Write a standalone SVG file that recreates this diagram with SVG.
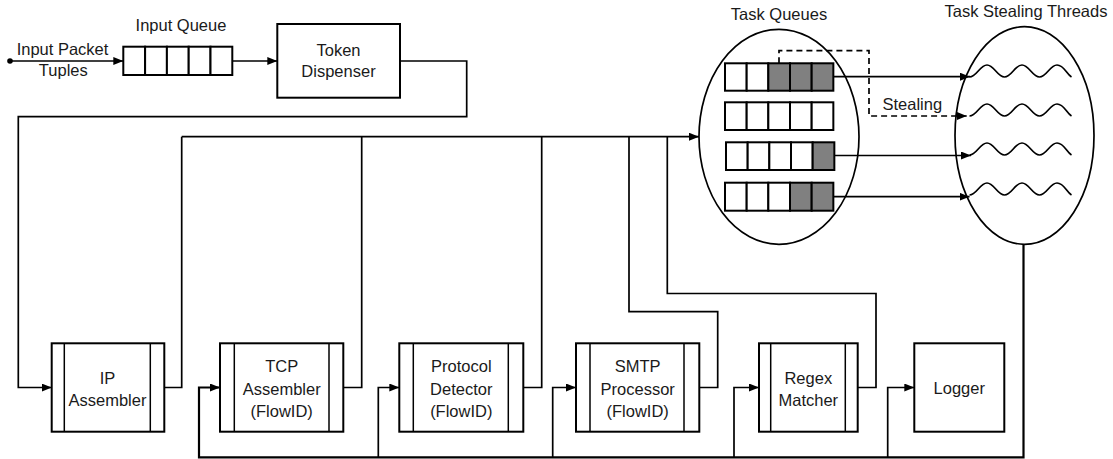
<svg xmlns="http://www.w3.org/2000/svg" xmlns:xlink="http://www.w3.org/1999/xlink" width="1113" height="459" viewBox="0 0 1113 459">
<style>
text{font-family:"Liberation Sans",Arial,sans-serif;font-size:16.5px;fill:#1a1a1a;text-anchor:middle}
.box{fill:#fff;stroke:#000;stroke-width:2}
.in{stroke:#000;stroke-width:1.5}
.cell{fill:#fff;stroke:#000;stroke-width:2}
.g{fill:#808080}
.c{fill:none;stroke:#000;stroke-width:1.7}
.thick{fill:none;stroke:#000;stroke-width:2.2}
.dash{fill:none;stroke:#000;stroke-width:1.7;stroke-dasharray:6 4}
.ell{fill:none;stroke:#000;stroke-width:1.7}
.wave{fill:none;stroke:#000;stroke-width:1.7}
</style>
<defs>
<marker id="ah" markerUnits="userSpaceOnUse" markerWidth="12" markerHeight="10" refX="10" refY="4" orient="auto">
<path d="M0,0 L10,4 L0,8 Z" fill="#000"/>
</marker>
<path id="wv" class="wave" d="M0,0 C7,0 10.5,-12 17.5,-12 S28,0 35,0 S45.5,-12 52.5,-12 S63,0 70,0 S80.5,-12 87.5,-12 S97,-3 102,0"/>
</defs>

<g id="input-label">
<text x="62.5" y="54.5">Input Packet</text>
<text x="63.3" y="76">Tuples</text>
</g>

<g id="input-queue">
<text x="181" y="31">Input Queue</text>
<rect class="cell" x="123.3" y="46.7" width="21.8" height="28.3"/>
<rect class="cell" x="145.1" y="46.7" width="21.8" height="28.3"/>
<rect class="cell" x="166.9" y="46.7" width="21.8" height="28.3"/>
<rect class="cell" x="188.7" y="46.7" width="21.8" height="28.3"/>
<rect class="cell" x="210.5" y="46.7" width="21.8" height="28.3"/>
</g>

<g id="token-dispenser">
<rect class="box" x="277.3" y="24" width="122.7" height="73.7"/>
<text x="338.5" y="56">Token</text>
<text x="338.5" y="77">Dispenser</text>
</g>

<g id="task-queues">
<text x="779" y="19.5">Task Queues</text>
<ellipse class="ell" cx="779" cy="136.8" rx="80" ry="107.5"/>
<rect class="cell" x="725" y="63.3" width="21.67" height="27.4"/>
<rect class="cell" x="746.67" y="63.3" width="21.67" height="27.4"/>
<rect class="cell g" x="768.33" y="63.3" width="21.67" height="27.4"/>
<rect class="cell g" x="790" y="63.3" width="21.67" height="27.4"/>
<rect class="cell g" x="811.67" y="63.3" width="21.67" height="27.4"/>
<rect class="cell" x="725" y="102.3" width="21.67" height="27.7"/>
<rect class="cell" x="746.67" y="102.3" width="21.67" height="27.7"/>
<rect class="cell" x="768.33" y="102.3" width="21.67" height="27.7"/>
<rect class="cell" x="790" y="102.3" width="21.67" height="27.7"/>
<rect class="cell" x="811.67" y="102.3" width="21.67" height="27.7"/>
<rect class="cell" x="726" y="142.3" width="21.67" height="27.7"/>
<rect class="cell" x="747.67" y="142.3" width="21.67" height="27.7"/>
<rect class="cell" x="769.33" y="142.3" width="21.67" height="27.7"/>
<rect class="cell" x="791" y="142.3" width="21.67" height="27.7"/>
<rect class="cell g" x="812.67" y="142.3" width="21.67" height="27.7"/>
<rect class="cell" x="725" y="182.7" width="21.67" height="28"/>
<rect class="cell" x="746.67" y="182.7" width="21.67" height="28"/>
<rect class="cell" x="768.33" y="182.7" width="21.67" height="28"/>
<rect class="cell g" x="790" y="182.7" width="21.67" height="28"/>
<rect class="cell g" x="811.67" y="182.7" width="21.67" height="28"/>
</g>

<g id="task-stealing-threads">
<text x="1026" y="17">Task Stealing Threads</text>
<ellipse class="ell" cx="1024.5" cy="135.5" rx="69.5" ry="108.8"/>
<use xlink:href="#wv" href="#wv" x="969.5" y="77"/>
<use xlink:href="#wv" href="#wv" x="969.5" y="116"/>
<use xlink:href="#wv" href="#wv" x="969.5" y="155"/>
<use xlink:href="#wv" href="#wv" x="969.5" y="195"/>
</g>

<g id="ip-assembler">
<rect class="box" x="51.7" y="343.3" width="112.6" height="88.4"/>
<line class="in" x1="64.3" y1="343.3" x2="64.3" y2="431.7"/>
<line class="in" x1="150.3" y1="343.3" x2="150.3" y2="431.7"/>
<text x="107.5" y="383.5">IP</text>
<text x="107.5" y="405.5">Assembler</text>
</g>

<g id="tcp-assembler">
<rect class="box" x="220" y="343.3" width="123.3" height="88.4"/>
<line class="in" x1="234.3" y1="343.3" x2="234.3" y2="431.7"/>
<line class="in" x1="329" y1="343.3" x2="329" y2="431.7"/>
<text x="281.7" y="372.2">TCP</text>
<text x="281.7" y="394.8">Assembler</text>
<text x="281.7" y="417.2">(FlowID)</text>
</g>

<g id="protocol-detector">
<rect class="box" x="399.3" y="343.3" width="124" height="88.4"/>
<line class="in" x1="413.3" y1="343.3" x2="413.3" y2="431.7"/>
<line class="in" x1="508.3" y1="343.3" x2="508.3" y2="431.7"/>
<text x="461.3" y="372.2">Protocol</text>
<text x="461.3" y="394.8">Detector</text>
<text x="461.3" y="417.2">(FlowID)</text>
</g>

<g id="smtp-processor">
<rect class="box" x="576" y="343.3" width="123.3" height="88.4"/>
<line class="in" x1="590" y1="343.3" x2="590" y2="431.7"/>
<line class="in" x1="684" y1="343.3" x2="684" y2="431.7"/>
<text x="637.7" y="372.2">SMTP</text>
<text x="637.7" y="394.8">Processor</text>
<text x="637.7" y="417.2">(FlowID)</text>
</g>

<g id="regex-matcher">
<rect class="box" x="759" y="343.3" width="98.7" height="88.4"/>
<line class="in" x1="770.7" y1="343.3" x2="770.7" y2="431.7"/>
<line class="in" x1="845.3" y1="343.3" x2="845.3" y2="431.7"/>
<text x="808.3" y="383.8">Regex</text>
<text x="808.3" y="405.5">Matcher</text>
</g>

<g id="logger">
<rect class="box" x="914.3" y="343.3" width="90" height="88.4"/>
<text x="959.3" y="393.8">Logger</text>
</g>

<g id="connectors">
<circle cx="10" cy="61" r="2.8" fill="#000"/>
<path class="c" d="M10,61 H123.3" marker-end="url(#ah)"/>
<path class="c" d="M232.3,61 H277.3" marker-end="url(#ah)"/>
<path class="c" d="M400,61 H466.7 V116.7 H18.3 V387.5 H51.7" marker-end="url(#ah)"/>
<path class="c" d="M164.3,387.5 H181.7 V136.7"/>
<path class="c" d="M343.3,387.5 H361.7 V136.7"/>
<path class="c" d="M523.3,387.5 H541.7 V136.7"/>
<path class="c" d="M699.3,387.5 H717.7 V311.7 H629 V136.7"/>
<path class="c" d="M857.7,387.5 H876 V293.5 H667.3 V136.7"/>
<path class="c" d="M181.7,136.7 H699" marker-end="url(#ah)"/>
<path class="c" d="M833.3,76.7 H970" marker-end="url(#ah)"/>
<path class="c" d="M834.3,155.5 H971" marker-end="url(#ah)"/>
<path class="c" d="M833.3,196.7 H969.5" marker-end="url(#ah)"/>
<path class="dash" d="M779,63.3 V50.7 H869 V116 H966.7" marker-end="url(#ah)"/>
<text x="912.3" y="110">Stealing</text>
<path class="thick" d="M1023.5,244.3 V457.3 H199 V387.5 H220" marker-end="url(#ah)"/>
<path class="c" d="M378.3,457.3 V387.5 H399.3" marker-end="url(#ah)"/>
<path class="c" d="M552.7,457.3 V387.5 H576" marker-end="url(#ah)"/>
<path class="c" d="M734,457.3 V387.5 H759" marker-end="url(#ah)"/>
<path class="c" d="M887.7,457.3 V387.5 H914.3" marker-end="url(#ah)"/>
</g>
</svg>
